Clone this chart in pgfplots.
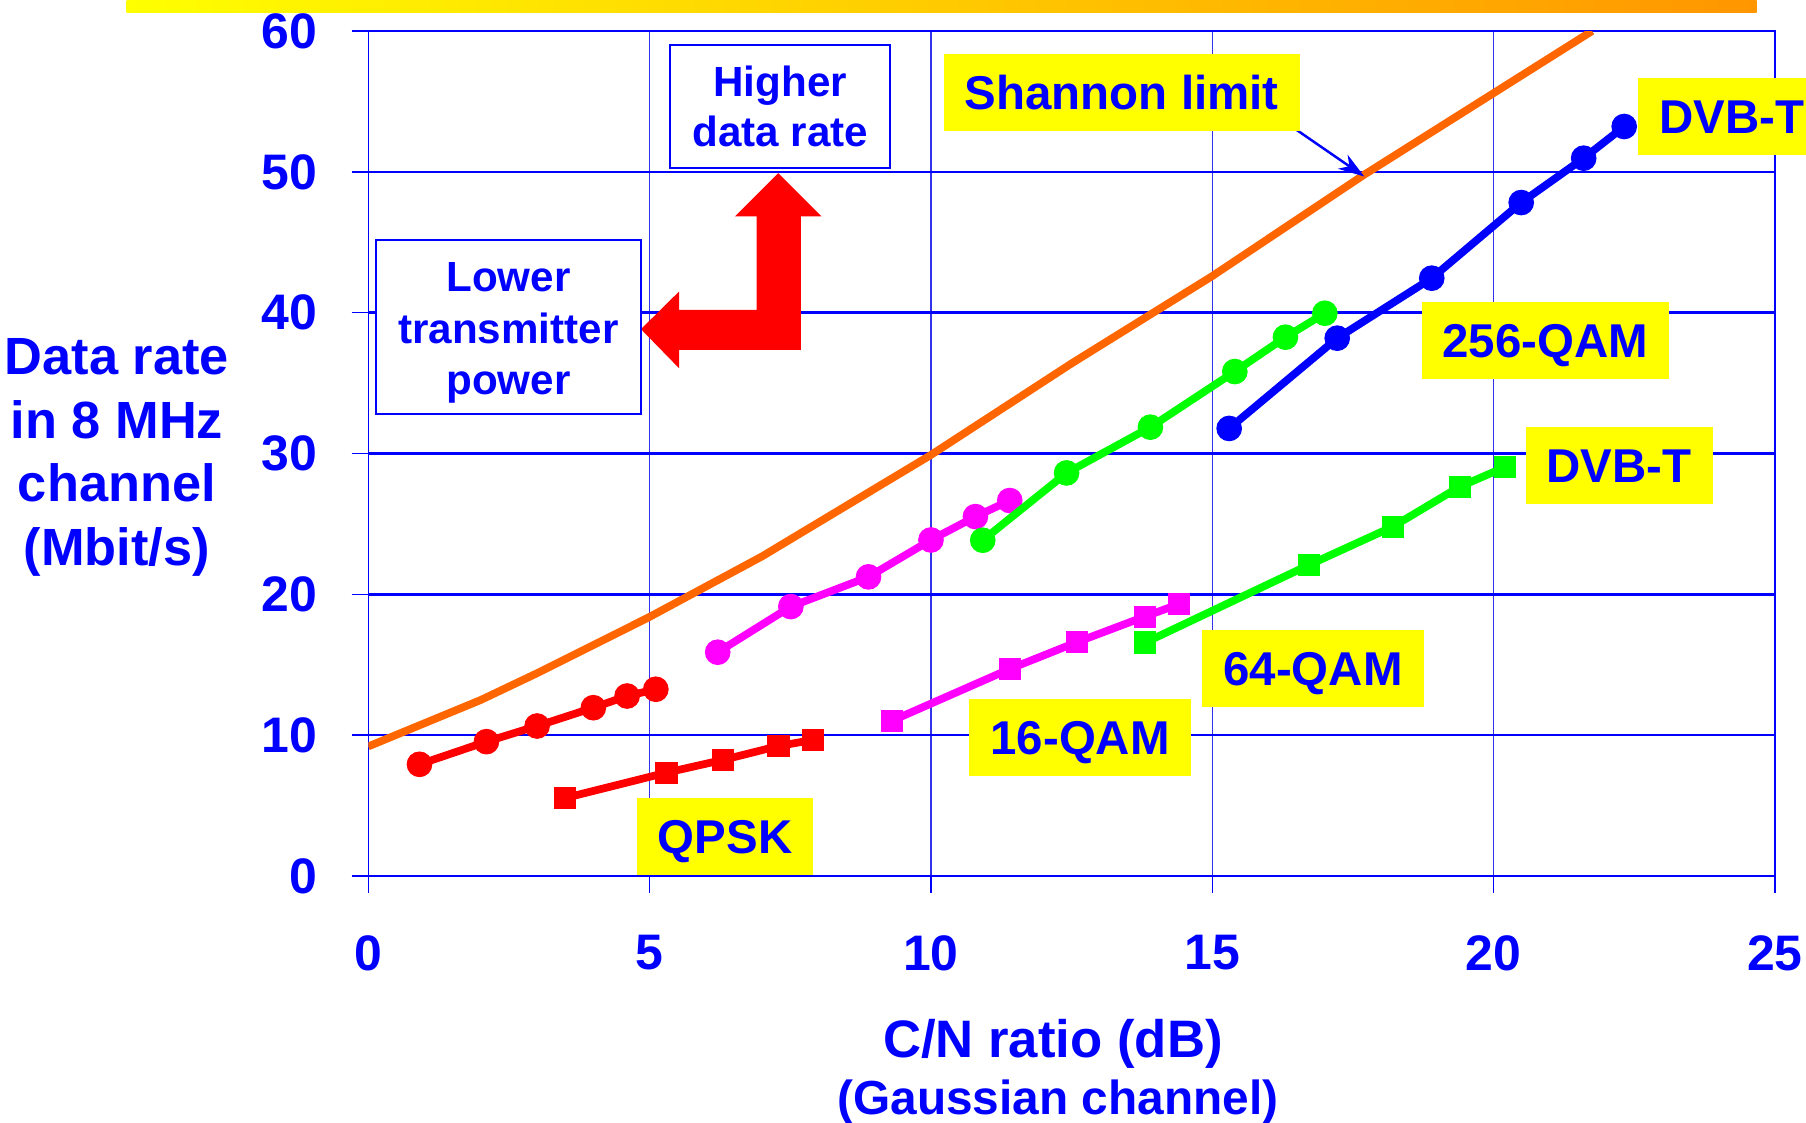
\documentclass[border=0pt]{standalone}
\usepackage{fontspec}
\setmainfont{Liberation Sans}
\usepackage{pgfplots}
\usepackage{pgfplotstable}
\pgfplotsset{compat=1.18}
\usetikzlibrary{arrows.meta}

\definecolor{dblue}{RGB}{0,0,255}
\definecolor{gridblue}{RGB}{50,50,235}
\definecolor{lyellow}{RGB}{255,255,0}
\definecolor{barorange}{RGB}{255,150,0}
\definecolor{baryellow}{RGB}{255,232,0}
\definecolor{shannon}{RGB}{255,102,0}
\definecolor{qred}{RGB}{255,0,0}
\definecolor{qmag}{RGB}{255,0,255}
\definecolor{qgreen}{RGB}{0,255,0}

\newcommand\lbl[1]{\fontsize{#1}{#1}\selectfont\bfseries}

% QPSK
\pgfplotstableread{
x y
0.91 7.93
2.10 9.54
3.00 10.65
4.00 11.95
4.60 12.78
5.11 13.26
}\qpskcirc
\pgfplotstableread{
x y
3.50 5.54
5.30 7.34
6.30 8.24
7.29 9.23
7.90 9.66
}\qpsksq
% 16-QAM
\pgfplotstableread{
x y
6.21 15.89
7.51 19.13
8.89 21.24
10.00 23.86
10.79 25.52
11.40 26.66
}\qamAcirc
\pgfplotstableread{
x y
9.31 11.03
11.40 14.70
12.59 16.60
13.80 18.42
14.41 19.31
}\qamAsq
% 64-QAM
\pgfplotstableread{
x y
10.92 23.84
12.41 28.62
13.90 31.87
15.40 35.82
16.30 38.26
17.00 39.96
}\qamBcirc
\pgfplotstableread{
x y
13.81 16.58
16.72 22.09
18.21 24.81
19.40 27.65
20.20 29.03
}\qamBsq
% 256-QAM
\pgfplotstableread{
x y
15.30 31.78
17.22 38.19
18.90 42.45
20.49 47.82
21.60 50.97
22.32 53.22
}\qamCcirc
% Shannon limit
\pgfplotstableread{
x y
0 9.2
2 12.5
3 14.4
5 18.4
7 22.7
10 29.9
12.5 36.4
15 42.6
17.7 49.8
21.75 60
}\shannonlim

\begin{document}
\begin{tikzpicture}
\useasboundingbox (-3.683,-2.47) rectangle (14.377,8.76);
\shade[left color=lyellow, middle color=baryellow, right color=barorange]
  (-2.416,8.637) rectangle (13.882,8.78);
\begin{axis}[
  at={(0,0)}, anchor=south west, scale only axis,
  width=14.067cm, height=8.45cm,
  xmin=0, xmax=25, ymin=0, ymax=60,
  xtick={0,5,...,25}, ytick={0,10,...,60},
  grid=major,
  major x grid style={gridblue, line width=0.35pt},
  major y grid style={dblue, line width=0.75pt},
  axis line style={dblue, line width=0.45pt},
  tick style={dblue, line width=0.45pt},
  tick align=outside, tick pos=left, major tick length=0.167cm,
  ticklabel style={font={\lbl{14.2}}, text=dblue},
  /pgf/number format/assume math mode=true,
  xticklabel style={anchor=north, inner sep=0pt, yshift=-0.42cm},
  yticklabel style={anchor=east, inner sep=0pt, xshift=-0.34cm},
  clip mode=individual,
  every axis plot/.append style={line width=2.2pt},
  xlabel={C/N ratio (dB)},
  xlabel style={at={(axis description cs:0.4867,-0.2146)}, anchor=base,
    font={\lbl{15}}, text=dblue, inner sep=0pt},
  ylabel={Data rate\\in 8 MHz\\channel\\(Mbit/s)},
  ylabel style={rotate=-90, at={(axis description cs:-0.1787,0.4953)},
    anchor=center, align=center, font={\fontsize{14.9}{18.1}\selectfont\bfseries},
    text=dblue, inner sep=0pt},
]
\addplot[shannon] table {\shannonlim};
\addplot[qred, mark=*, mark size=3.5pt, mark options={line width=0.3pt}] table {\qpskcirc};
\addplot[qred, mark=square*, mark size=3.0pt, mark options={line width=0.3pt}] table {\qpsksq};
\addplot[qmag, mark=*, mark size=3.5pt, mark options={line width=0.3pt}] table {\qamAcirc};
\addplot[qmag, mark=square*, mark size=3.0pt, mark options={line width=0.3pt}] table {\qamAsq};
\addplot[qgreen, mark=*, mark size=3.5pt, mark options={line width=0.3pt}] table {\qamBcirc};
\addplot[qgreen, mark=square*, mark size=3.0pt, mark options={line width=0.3pt}] table {\qamBsq};
\addplot[dblue, mark=*, mark size=3.5pt, mark options={line width=0.3pt}] table {\qamCcirc};

% bent red arrow
\fill[qred] (axis cs:7.286,49.91) -- (axis cs:8.058,46.83) -- (axis cs:7.690,46.83)
  -- (axis cs:7.690,37.36) -- (axis cs:5.522,37.36) -- (axis cs:5.522,36.06)
  -- (axis cs:4.846,38.83) -- (axis cs:5.522,41.50) -- (axis cs:5.522,40.20)
  -- (axis cs:6.902,40.20) -- (axis cs:6.902,46.83) -- (axis cs:6.517,46.83) -- cycle;

% white boxes
\node[draw=dblue, line width=0.55pt, fill=white, text=dblue, align=center,
  font={\fontsize{12}{14.1}\selectfont\bfseries}, inner sep=0pt,
  minimum width=2.195cm, minimum height=1.228cm] at (axis cs:7.32,54.63) {Higher\\data rate};
\node[draw=dblue, line width=0.55pt, fill=white, inner sep=0pt,
  minimum width=2.65cm, minimum height=1.74cm] at (axis cs:2.49,38.98) {};
\node[text=dblue, align=center, font={\fontsize{12}{14.7}\selectfont\bfseries},
  inner sep=0pt, yshift=-0.06cm] at (axis cs:2.49,38.98) {Lower\\transmitter\\power};

% arrow to Shannon curve
\draw[dblue, line width=0.7pt, -{Stealth[length=0.26cm, width=0.17cm, inset=0.08cm]}]
  (axis cs:16.49,53.0) -- (axis cs:17.70,49.67);

% yellow labels
\tikzset{ylab/.style={fill=lyellow, text=dblue, font={\lbl{13.5}}, inner xsep=0.21cm,
  inner ysep=0pt, minimum height=0.77cm, text height=9.7pt, text depth=0pt}}
\node[ylab] at (axis cs:13.39,55.62) {Shannon limit};
\node[ylab, anchor=west] at (axis cs:22.56,53.91) {DVB-T};
\node[ylab] at (axis cs:20.92,38.01) {256-QAM};
\node[ylab] at (axis cs:22.23,29.14) {DVB-T};
\node[ylab] at (axis cs:16.79,14.74) {64-QAM};
\node[ylab] at (axis cs:12.65,9.82) {16-QAM};
\node[ylab] at (axis cs:6.34,2.84) {QPSK};

\node[anchor=base, font={\lbl{13.6}}, text=dblue, inner sep=0pt]
  at (axis description cs:0.4902,-0.2826) {(Gaussian channel)};
\end{axis}
\end{tikzpicture}
\end{document}
